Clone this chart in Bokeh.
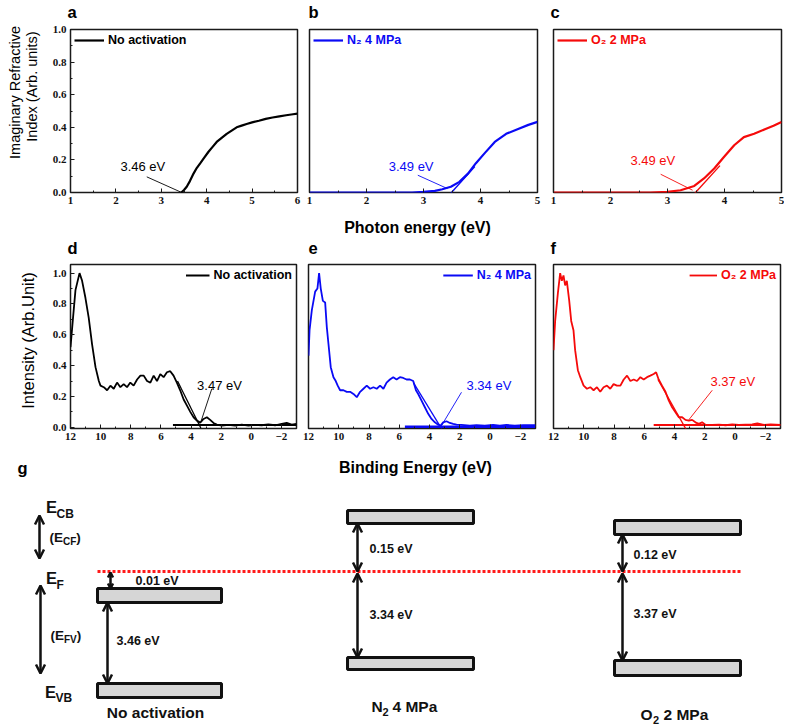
import math
from bokeh.plotting import figure
from bokeh.layouts import column, row
from bokeh.models import (Range1d, Legend, LegendItem, SingleIntervalTicker,
                          PrintfTickFormatter, Arrow, OpenHead, ColumnDataSource)
from bokeh.core.properties import value
from bokeh.embed import file_html
from bokeh.resources import INLINE

SANS = "Liberation Sans"
SERIF = "Liberation Serif"
BLACK = "#000000"
BLUE = "#0a0af5"
RED = "#f50a0a"

# ---------------- data: imaginary refractive index (a, b, c) ----------------
a_x = [3.44, 3.50, 3.56, 3.63, 3.71, 3.78, 3.86, 3.95, 4.04, 4.13, 4.22, 4.33, 4.44,
       4.55, 4.66, 4.77, 4.88, 5.00, 5.15, 5.30, 5.45, 5.60, 5.75, 5.90, 6.00]
a_y = [0.0, 0.015, 0.035, 0.07, 0.116, 0.15, 0.18, 0.215, 0.25, 0.28, 0.31, 0.335, 0.36,
       0.38, 0.40, 0.41, 0.42, 0.43, 0.44, 0.452, 0.46, 0.467, 0.474, 0.48, 0.484]

b_x = [1.0, 2.0, 2.8, 3.0, 3.2, 3.33, 3.48, 3.63, 3.78, 3.92, 4.07, 4.25, 4.45, 4.66, 4.84, 5.0]
b_y = [0.0, 0.0, 0.0, 0.004, 0.01, 0.02, 0.035, 0.065, 0.116, 0.18, 0.24, 0.31, 0.36, 0.39, 0.415, 0.433]
b_tan_x = [3.44, 3.90]
b_tan_y = [-0.02, 0.16]

c_x = [1.0, 2.0, 2.7, 3.0, 3.23, 3.47, 3.64, 3.82, 3.99, 4.17, 4.34, 4.52, 4.72, 4.86, 5.0]
c_y = [0.0, 0.0, 0.0, 0.004, 0.014, 0.04, 0.086, 0.147, 0.218, 0.29, 0.34, 0.36, 0.39, 0.41, 0.433]
c_tan_x = [3.44, 3.92]
c_tan_y = [-0.02, 0.165]

top_gap_text = ["3.46 eV", "3.49 eV", "3.49 eV"]

# ---------------- data: valence band spectra (d, e, f) ----------------
d_x = [12.0, 11.85, 11.67, 11.40, 11.23, 11.01, 10.79, 10.57, 10.34, 10.12,
       10.01, 9.79, 9.57, 9.35, 9.13, 8.91, 8.69, 8.47, 8.25, 8.03,
       7.81, 7.58, 7.36, 7.14, 6.92, 6.70, 6.48, 6.26, 6.04, 5.82,
       5.60, 5.38, 5.16, 4.94, 4.72, 4.49, 4.27, 4.05, 3.83, 3.61,
       3.39, 3.17, 2.95, 2.73, 2.51, 2.29, 1.96, 1.51, 1.07, 0.63,
       0.19, -0.25, -0.69, -1.13, -1.58, -2.02, -2.35, -2.68, -3.0]
d_y = [0.52, 0.69, 0.89, 1.0, 0.95, 0.84, 0.71, 0.54, 0.39, 0.30,
       0.27, 0.26, 0.24, 0.27, 0.25, 0.29, 0.26, 0.28, 0.26, 0.29,
       0.27, 0.31, 0.335, 0.335, 0.30, 0.29, 0.335, 0.30, 0.345, 0.325,
       0.357, 0.364, 0.335, 0.29, 0.24, 0.18, 0.14, 0.10, 0.065, 0.043,
       0.03, 0.054, 0.065, 0.048, 0.028, 0.017, 0.011, 0.015, 0.011, 0.017,
       0.011, 0.015, 0.013, 0.019, 0.013, 0.022, 0.028, 0.017, 0.022]
d_tan_x = [4.9, 3.35]
d_tan_y = [0.30, -0.005]
d_base_x = [5.2, -3.0]
d_base_y = [0.015, 0.015]

e_x = [12.0, 11.93, 11.78, 11.56, 11.41, 11.30, 11.19, 11.05, 10.90, 10.79,
       10.68, 10.53, 10.35, 10.20, 10.07, 9.91, 9.69, 9.47, 9.25, 9.03,
       8.81, 8.59, 8.37, 8.15, 7.93, 7.71, 7.49, 7.27, 7.05, 6.84,
       6.62, 6.40, 6.18, 5.96, 5.74, 5.52, 5.30, 5.08, 4.90, 4.75,
       4.53, 4.31, 4.09, 3.87, 3.65, 3.43, 3.27, 3.10, 2.88, 2.66,
       2.44, 2.22, 1.89, 1.34, 0.90, 0.35, -0.20, -0.64, -1.08, -1.63,
       -2.18, -2.99]
e_y = [0.465, 0.63, 0.76, 0.88, 0.90, 1.0, 0.90, 0.82, 0.81, 0.65,
       0.54, 0.39, 0.325, 0.30, 0.27, 0.24, 0.24, 0.23, 0.23, 0.216,
       0.195, 0.23, 0.25, 0.27, 0.25, 0.26, 0.25, 0.27, 0.25, 0.29,
       0.31, 0.325, 0.31, 0.325, 0.32, 0.31, 0.31, 0.30, 0.24, 0.216,
       0.173, 0.13, 0.087, 0.054, 0.032, 0.017, 0.011, 0.032, 0.039, 0.028,
       0.022, 0.017, 0.015, 0.011, 0.013, 0.011, 0.015, 0.011, 0.015, 0.011,
       0.013, 0.013]
e_tan_x = [5.07, 3.2]
e_tan_y = [0.29, -0.01]
e_base_x = [5.63, -3.0]
e_base_y = [0.003, 0.003]

f_x = [12.0, 11.89, 11.71, 11.56, 11.45, 11.34, 11.23, 11.12, 10.96, 10.83,
       10.68, 10.57, 10.39, 10.23, 10.01, 9.79, 9.57, 9.35, 9.13, 8.91,
       8.69, 8.47, 8.25, 8.03, 7.81, 7.58, 7.36, 7.14, 6.92, 6.70,
       6.48, 6.26, 6.04, 5.82, 5.60, 5.38, 5.22, 5.05, 4.83, 4.60,
       4.38, 4.16, 3.94, 3.72, 3.50, 3.28, 3.06, 2.84, 2.62, 2.40,
       2.18, 1.96, 1.51, 1.07, 0.63, 0.19, -0.25, -0.69, -1.13, -1.47,
       -1.91, -2.35, -3.0]
f_y = [0.50, 0.69, 0.87, 1.0, 0.95, 0.985, 0.92, 0.95, 0.82, 0.69,
       0.63, 0.50, 0.37, 0.325, 0.27, 0.25, 0.26, 0.24, 0.26, 0.23,
       0.26, 0.27, 0.25, 0.28, 0.27, 0.27, 0.31, 0.335, 0.30, 0.31,
       0.30, 0.325, 0.31, 0.325, 0.335, 0.346, 0.357, 0.31, 0.27, 0.23,
       0.173, 0.13, 0.097, 0.065, 0.065, 0.048, 0.043, 0.048, 0.032, 0.022,
       0.032, 0.017, 0.015, 0.017, 0.013, 0.019, 0.015, 0.017, 0.019, 0.026,
       0.015, 0.019, 0.015]
f_tan_x = [5.1, 3.2]
f_tan_y = [0.31, -0.02]
f_base_x = [5.38, -3.0]
f_base_y = [0.015, 0.015]

mid_gap_text = ["3.47 eV", "3.34 eV", "3.37 eV"]

samples = ["No activation", "N\u2082 4 MPa", "O\u2082 2 MPa"]
panel_letters = ["a", "b", "c", "d", "e", "f", "g"]

# ---------------- data: band diagram (g) ----------------
gap_cf = [0.01, 0.15, 0.12]
gap_fv = [3.46, 3.34, 3.37]


def style_axes(p):
    p.grid.visible = False
    p.outline_line_color = "#1a1a1a"
    p.outline_line_width = 1.5
    p.background_fill_color = "white"
    p.border_fill_color = "white"
    for ax in p.axis:
        ax.axis_line_color = None
        ax.major_tick_in = 4
        ax.major_tick_out = 0
        ax.minor_tick_in = 2
        ax.minor_tick_out = 0
        ax.major_tick_line_color = "#1a1a1a"
        ax.minor_tick_line_color = "#1a1a1a"
        ax.major_label_text_font = SERIF
        ax.major_label_text_font_style = "bold"
        ax.major_label_text_font_size = "11px"
        ax.major_label_text_color = "#111111"
        ax.major_label_standoff = 4


def panel(width, height, borders, xr, yr, show_y, x_int):
    bl, br, bt, bb = borders
    p = figure(width=width, height=height, x_range=xr, y_range=yr,
               output_backend="svg", toolbar_location=None,
               min_border_left=bl, min_border_right=br,
               min_border_top=bt, min_border_bottom=bb,
               y_axis_location="left" if show_y else None)
    p.xaxis.ticker = SingleIntervalTicker(interval=x_int, num_minor_ticks=2)
    if show_y:
        p.yaxis.ticker = SingleIntervalTicker(interval=0.2, num_minor_ticks=2)
        p.yaxis.formatter = PrintfTickFormatter(format="%.1f")
    style_axes(p)
    return p


def strip(width, height, xr, yr):
    """Plain text canvas: its coordinates are page pixels."""
    p = figure(width=width, height=height, x_range=Range1d(*xr), y_range=Range1d(*yr),
               output_backend="svg", toolbar_location=None,
               x_axis_location=None, y_axis_location=None,
               min_border_left=0, min_border_right=0, min_border_top=0, min_border_bottom=0)
    p.grid.visible = False
    p.outline_line_color = None
    p.background_fill_color = "white"
    p.border_fill_color = "white"
    return p


def words(p, xs, ys, texts, size, style="normal", color=BLACK, align="left",
          baseline="middle", angle=0.0):
    p.text(x=xs, y=ys, text=texts, text_font=value(SANS), text_font_size=value(size),
           text_font_style=style, text_color=color, text_align=align,
           text_baseline=baseline, angle=angle)


def legend(p, r, label, color, loc, glyph_w):
    leg = Legend(items=[LegendItem(label=label, renderers=[r])], location=loc,
                 border_line_color=None, background_fill_alpha=0.0,
                 margin=4, padding=2, glyph_width=glyph_w, glyph_height=14,
                 label_height=14, label_standoff=4, spacing=0,
                 label_text_font=SANS, label_text_font_style="bold",
                 label_text_font_size="12.5px", label_text_color=color)
    p.add_layout(leg)


def note(p, x, y, txt, color, size="13px"):
    p.text(x=[x], y=[y], text=[txt], text_font=value(SANS), text_font_size=value(size),
           text_color=color, text_align="left", text_baseline="middle")


# ---------------- text strips (page-pixel coordinates) ----------------
left_strip = strip(48, 447, (0, 48), (-447, 0))
words(left_strip, [14, 31.5], [-92, -86], ["Imaginary Refractive", "Index (Arb. units)"],
      "14.5px", align="center", angle=math.pi / 2)
words(left_strip, [27], [-340], ["Intensity (Arb.Unit)"], "16.5px",
      align="center", angle=math.pi / 2)

header1 = strip(736, 22, (48, 784), (22, 0))
words(header1, [67, 308, 550], [11, 11, 11], panel_letters[0:3], "16.5px", "bold")

header2 = strip(736, 48, (48, 784), (259, 211))
words(header2, [417], [227], ["Photon energy (eV)"], "16px", "bold", align="center")
words(header2, [67, 308, 550], [247, 247, 247], panel_letters[3:6], "16.5px", "bold")

footer2 = strip(784, 34, (0, 784), (481, 447))
words(footer2, [17], [467], [panel_letters[6]], "16.5px", "bold")
words(footer2, [415], [467], ["Binding Energy (eV)"], "16px", "bold", align="center")

# ---------------- row 1 ----------------
pa = panel(255, 189, (22, 6, 7, 19), Range1d(1, 6), Range1d(0, 1), True, 1)
pb = panel(242, 189, (6, 8, 7, 19), Range1d(1, 5), Range1d(0, 1), False, 1)
pc = panel(239, 189, (8, 3, 7, 19), Range1d(1, 5), Range1d(0, 1), False, 1)

ra = pa.line(a_x, a_y, line_color=BLACK, line_width=2.2)
pa.line([2.68, 3.45], [0.096, 0.0], line_color=BLACK, line_width=0.9)
note(pa, 2.1, 0.16, top_gap_text[0], BLACK)
legend(pa, ra, samples[0], BLACK, "top_left", 30)

rb = pb.line(b_x, b_y, line_color=BLUE, line_width=2.2)
pb.line(b_tan_x, b_tan_y, line_color=BLUE, line_width=1.4)
pb.line([2.9, 3.42], [0.106, 0.024], line_color=BLUE, line_width=0.9)
note(pb, 2.39, 0.157, top_gap_text[1], BLUE)
legend(pb, rb, samples[1], BLUE, "top_left", 30)

rc = pc.line(c_x, c_y, line_color=RED, line_width=2.2)
pc.line(c_tan_x, c_tan_y, line_color=RED, line_width=1.4)
pc.line([2.88, 3.44], [0.112, 0.014], line_color=RED, line_width=0.9)
note(pc, 2.35, 0.198, top_gap_text[2], RED)
legend(pc, rc, samples[2], RED, "top_left", 30)

# ---------------- row 2 ----------------
yr_mid = (-0.008, 1.056)
pd_ = panel(253, 188, (22, 5, 5, 19), Range1d(12, -3), Range1d(*yr_mid), True, 2)
pe = panel(242, 188, (7, 8, 5, 19), Range1d(12, -3), Range1d(*yr_mid), False, 2)
pf = panel(241, 188, (10, 4, 5, 19), Range1d(12, -3), Range1d(*yr_mid), False, 2)

rd = pd_.line(d_x, d_y, line_color=BLACK, line_width=1.8)
pd_.line(d_tan_x, d_tan_y, line_color=BLACK, line_width=1.3)
pd_.line(d_base_x, d_base_y, line_color=BLACK, line_width=2.0)
pd_.line([2.62, 3.32], [0.25, 0.043], line_color=BLACK, line_width=0.9)
note(pd_, 3.6, 0.27, mid_gap_text[0], BLACK)
legend(pd_, rd, samples[0], BLACK, "top_right", 24)

re_ = pe.line(e_x, e_y, line_color=BLUE, line_width=1.8)
pe.line(e_tan_x, e_tan_y, line_color=BLUE, line_width=1.3)
pe.line(e_base_x, e_base_y, line_color=BLUE, line_width=2.6)
pe.line([1.89, 3.21], [0.227, 0.011], line_color=BLUE, line_width=0.9)
note(pe, 1.56, 0.27, mid_gap_text[1], BLUE)
legend(pe, re_, samples[1], BLUE, "top_right", 30)

rf = pf.line(f_x, f_y, line_color=RED, line_width=1.8)
pf.line(f_tan_x, f_tan_y, line_color=RED, line_width=1.3)
pf.line(f_base_x, f_base_y, line_color=RED, line_width=2.0)
pf.line([1.51, 3.06], [0.24, 0.048], line_color=RED, line_width=0.9)
note(pf, 1.63, 0.30, mid_gap_text[2], RED)
legend(pf, rf, samples[2], RED, "top_right", 28)

# ---------------- row 3: band diagram ----------------
pg = strip(784, 243, (0, 784), (724, 481))

# schematic layout (diagram coordinates)
col_left = [97, 347, 614]
col_right = [221, 473, 740]
up_top = [588, 510, 520]
up_bot = [602, 523, 534]
lo_top = [683, 657, 660]
lo_bot = [697, 669, 675]
arrow_x = [107, 357, 622]
ef_y = 571

# Fermi level
pg.line([col_left[0], col_right[2]], [ef_y, ef_y], line_color="#ff1a1a",
        line_width=3, line_dash="3 2")

# bands
bars = ColumnDataSource(dict(left=col_left + col_left, right=col_right + col_right,
                             top=up_top + lo_top, bottom=up_bot + lo_bot))
pg.quad(left="left", right="right", top="top", bottom="bottom", source=bars,
        fill_color="#d6d6d6", line_color="#111111", line_width=3)

# arrows
ax_ = [39, 40, 110, arrow_x[0], arrow_x[1], arrow_x[1], arrow_x[2], arrow_x[2]]
ay0 = [515, 585, ef_y + 1, up_bot[0], up_bot[1], ef_y + 2, up_bot[2], ef_y + 2]
ay1 = [558, 673, up_top[0], lo_top[0], ef_y, lo_top[1], ef_y, lo_top[2]]
hs = [9, 9, 5, 9, 9, 9, 9, 9]
for x0, y0, y1, s in zip(ax_, ay0, ay1, hs):
    pg.add_layout(Arrow(x_start=x0, y_start=y0, x_end=x0, y_end=y1,
                        line_width=2.5, line_color="#111111",
                        start=OpenHead(size=s, line_width=2.5, line_color="#111111"),
                        end=OpenHead(size=s, line_width=2.5, line_color="#111111")))

# gap labels
gap_txt = [f"{v:.2f} eV" for v in (gap_cf[0], gap_fv[0], gap_cf[1], gap_fv[1], gap_cf[2], gap_fv[2])]
words(pg, [135, 116, 369, 369, 633, 633], [580, 640, 548, 614, 554, 613], gap_txt,
      "12.5px", "bold", color="#111111")

# energy level legend (E with subscripts)
words(pg, [45.5, 45.5, 44.5], [506, 577, 691], ["E", "E", "E"], "16.5px", "bold", "#111111")
words(pg, [56, 56, 55], [513, 584, 697], ["CB", "F", "VB"], "12px", "bold", "#111111")
words(pg, [49, 50], [537, 635], ["(E", "(E"], "13.5px", "bold", "#111111")
words(pg, [62.5, 63.5], [541, 639], ["CF", "FV"], "10px", "bold", "#111111")
words(pg, [75.8, 76.3], [537, 635], [")", ")"], "13.5px", "bold", "#111111")

# sample names
words(pg, [155], [712], [samples[0]], "15.5px", "bold", "#111111", align="center")
words(pg, [371, 640], [706, 714], ["N", "O"], "15.5px", "bold", "#111111")
words(pg, [382, 652.5], [711, 719], ["2", "2"], "11px", "bold", "#111111")
words(pg, [392, 663], [706, 714], ["4 MPa", "2 MPa"], "15.5px", "bold", "#111111")

right_block = column(header1, row(pa, pb, pc), header2, row(pd_, pe, pf))
layout = column(row(left_strip, right_block), footer2, pg)
open("out.html", "w").write(file_html(layout, INLINE))
